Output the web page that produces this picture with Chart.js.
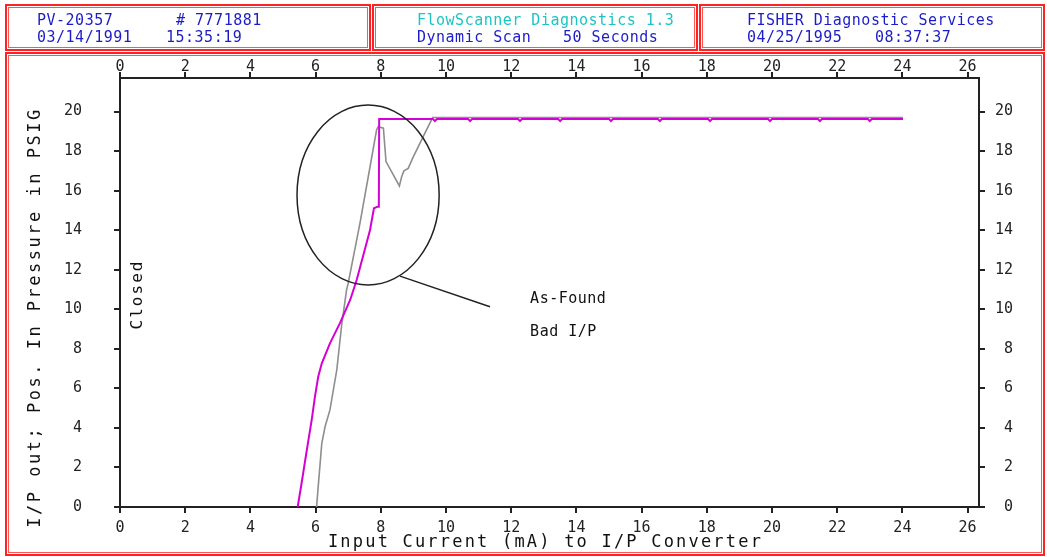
<!DOCTYPE html>
<html>
<head>
<meta charset="utf-8">
<title>FlowScanner Diagnostics - Dynamic Scan</title>
<script src="https://cdn.jsdelivr.net/npm/chart.js@4.4.1/dist/chart.umd.min.js"></script>
<style>
  html, body { margin: 0; padding: 0; background: #fff; }
  body { width: 1047px; height: 557px; position: relative; overflow: hidden; font-family: 'DejaVu Sans Mono', monospace; }
  #chart { position: absolute; left: 0; top: 0; }
  .box { position: absolute; box-sizing: border-box; border: 2px solid #f22; pointer-events: none; }
  .box::after { content: ''; position: absolute; left: 1px; top: 1px; right: 1px; bottom: 1px; border: 1px solid #f55; }
  .txt { position: absolute; font-size: 15px; line-height: 15px; letter-spacing: 0.5px; white-space: pre; color: #1c1cc8; }
  .cyan { color: #1ec4c4; }
</style>
</head>
<body>
<canvas id="chart" width="1047" height="557"></canvas>

<div class="box" style="left:5px; top:4px; width:366px; height:47px;"></div>
<div class="box" style="left:372px; top:4px; width:326px; height:47px;"></div>
<div class="box" style="left:699px; top:4px; width:346px; height:47px;"></div>
<div class="box" style="left:5px; top:52px; width:1040px; height:504px;"></div>

<div class="txt" style="left:37px; top:13px;">PV-20357</div>
<div class="txt" style="left:176px; top:13px;"># 7771881</div>
<div class="txt" style="left:37px; top:30px;">03/14/1991</div>
<div class="txt" style="left:166px; top:30px;">15:35:19</div>
<div class="txt cyan" style="left:417px; top:13px;">FlowScanner Diagnostics 1.3</div>
<div class="txt" style="left:417px; top:30px;">Dynamic Scan</div>
<div class="txt" style="left:563px; top:30px;">50 Seconds</div>
<div class="txt" style="left:747px; top:13px;">FISHER Diagnostic Services</div>
<div class="txt" style="left:747px; top:30px;">04/25/1995</div>
<div class="txt" style="left:875px; top:30px;">08:37:37</div>

<script>
// I/P output pressure (magenta)
const ipOutX = [5.45, 5.57, 5.73, 5.88, 5.98, 6.08, 6.19, 6.44, 6.75, 7.06, 7.26, 7.67, 7.79, 7.90, 7.94, 7.95,
  9.60, 9.66, 9.72, 10.68, 10.74, 10.80, 12.21, 12.27, 12.33, 13.44, 13.50, 13.56, 15.00, 15.06, 15.12,
  16.50, 16.56, 16.62, 18.04, 18.10, 18.16, 19.88, 19.94, 20.00, 21.41, 21.47, 21.53, 22.94, 23.00, 23.06, 24.02];
const ipOutY = [0, 1.2, 2.88, 4.4, 5.58, 6.59, 7.27, 8.28, 9.31, 10.47, 11.48, 14.01, 15.11, 15.19, 15.19, 19.62,
  19.62, 19.52, 19.62, 19.62, 19.52, 19.62, 19.62, 19.52, 19.62, 19.62, 19.52, 19.62, 19.62, 19.52, 19.62,
  19.62, 19.52, 19.62, 19.62, 19.52, 19.62, 19.62, 19.52, 19.62, 19.62, 19.52, 19.62, 19.62, 19.52, 19.62, 19.62];

// valve position (gray)
const positionX = [6.03, 6.08, 6.19, 6.29, 6.44, 6.65, 6.80, 6.95, 7.00, 7.36, 7.67, 7.87, 7.92, 8.08, 8.16,
  8.33, 8.57, 8.64, 8.71, 8.84, 9.00, 9.30, 9.59, 24.02];
const positionY = [0, 1.03, 3.22, 4.06, 4.91, 6.93, 9.21, 10.98, 11.32, 14.35, 17.21, 19.07, 19.24, 19.16, 17.47,
  16.96, 16.24, 16.71, 17.0, 17.13, 17.72, 18.73, 19.7, 19.7];

const xTicks = [0, 2, 4, 6, 8, 10, 12, 14, 16, 18, 20, 22, 24, 26];
const yTicks = [0, 2, 4, 6, 8, 10, 12, 14, 16, 18, 20];

const xTitle = 'Input Current (mA) to I/P Converter';
const yTitle = 'I/P out; Pos. In Pressure in PSIG';
const sideNote = 'Closed';
const noteLines = ['As-Found', 'Bad I/P'];

// annotation geometry in data units
const ringCenter = [7.61, 15.78];
const ringRadius = [2.18, 4.55];
const leaderFrom = [8.59, 11.68];
const leaderTo = [11.35, 10.13];
const noteX = 12.58;
const noteY = [10.52, 8.85];

const toPoints = (xs, ys) => xs.map((v, i) => ({ x: v, y: ys[i] }));

const tickFont = { family: 'DejaVu Sans Mono', size: 15, lineHeight: 1 };
const ink = '#222';

const axisGrid = (len) => ({ drawOnChartArea: false, drawTicks: true, tickLength: len, color: ink, lineWidth: 2 });
const axisBorder = { display: true, color: ink, width: 2 };

const overlay = {
  id: 'overlay',
  afterDatasetsDraw(chart) {
    const { ctx, scales: { x, y } } = chart;
    ctx.save();

    // ellipse around the bad region
    const cx = x.getPixelForValue(ringCenter[0]);
    const cy = y.getPixelForValue(ringCenter[1]);
    const rx = x.getPixelForValue(ringCenter[0] + ringRadius[0]) - cx;
    const ry = cy - y.getPixelForValue(ringCenter[1] + ringRadius[1]);
    ctx.strokeStyle = ink;
    ctx.lineWidth = 1.5;
    ctx.beginPath();
    ctx.ellipse(cx, cy, rx, ry, 0, 0, Math.PI * 2);
    ctx.stroke();

    ctx.beginPath();
    ctx.moveTo(x.getPixelForValue(leaderFrom[0]), y.getPixelForValue(leaderFrom[1]));
    ctx.lineTo(x.getPixelForValue(leaderTo[0]), y.getPixelForValue(leaderTo[1]));
    ctx.stroke();

    ctx.fillStyle = '#111';
    ctx.textBaseline = 'middle';
    ctx.textAlign = 'left';
    ctx.font = '15px "DejaVu Sans Mono"';
    ctx.letterSpacing = '0.5px';
    noteLines.forEach((t, i) => ctx.fillText(t, x.getPixelForValue(noteX), y.getPixelForValue(noteY[i])));
    ctx.restore();
  },
  afterDraw(chart) {
    const { ctx, chartArea } = chart;
    ctx.save();
    ctx.fillStyle = '#111';
    ctx.textBaseline = 'middle';
    ctx.textAlign = 'center';
    ctx.font = '17px "DejaVu Sans Mono"';
    ctx.letterSpacing = '2.2px';
    ctx.fillText(xTitle, (chartArea.left + chartArea.right) / 2 - 4, chartArea.bottom + 36);

    ctx.save();
    ctx.translate(chartArea.left - 84, (chartArea.top + chartArea.bottom) / 2 + 25);
    ctx.rotate(-Math.PI / 2);
    ctx.letterSpacing = '2.5px';
    ctx.fillText(yTitle, 0, 0);
    ctx.restore();

    ctx.save();
    ctx.translate(chartArea.left + 18, (chartArea.top + chartArea.bottom) / 2 + 2);
    ctx.rotate(-Math.PI / 2);
    ctx.font = '16px "DejaVu Sans Mono"';
    ctx.letterSpacing = '2px';
    ctx.fillText(sideNote, 0, 0);
    ctx.restore();

    ctx.restore();
  }
};

new Chart(document.getElementById('chart'), {
  type: 'line',
  data: {
    datasets: [
      {
        label: 'I/P out',
        data: toPoints(ipOutX, ipOutY),
        borderColor: '#d400d4',
        borderWidth: 2,
        pointRadius: 0,
        tension: 0,
      },
      {
        label: 'Position',
        data: toPoints(positionX, positionY),
        borderColor: '#8e8e8e',
        borderWidth: 1.6,
        pointRadius: 0,
        tension: 0,
      },
    ],
  },
  options: {
    responsive: false,
    animation: false,
    devicePixelRatio: 1,
    // right padding lets the right-hand labels end right-aligned at the scale edge
    layout: { padding: { left: 0, top: 0, bottom: 0, right: 34 } },
    plugins: { legend: { display: false }, tooltip: { enabled: false } },
    scales: {
      x: {
        type: 'linear', position: 'bottom', min: 0, max: 26.35,
        afterBuildTicks: (s) => { s.ticks = xTicks.map((v) => ({ value: v })); },
        afterFit: (s) => { s.height = 50; },
        ticks: { font: tickFont, color: ink, padding: 8, maxRotation: 0 },
        grid: axisGrid(6), border: axisBorder,
      },
      x2: {
        type: 'linear', axis: 'x', position: 'top', min: 0, max: 26.35,
        afterBuildTicks: (s) => { s.ticks = xTicks.map((v) => ({ value: v })); },
        afterFit: (s) => { s.height = 78; },
        ticks: { font: tickFont, color: ink, padding: -3, maxRotation: 0 },
        grid: axisGrid(6), border: axisBorder,
      },
      y: {
        type: 'linear', position: 'left', min: 0, max: 21.7,
        afterBuildTicks: (s) => { s.ticks = yTicks.map((v) => ({ value: v })); },
        afterFit: (s) => { s.width = 120; },
        ticks: { font: tickFont, color: ink, padding: 32 },
        grid: axisGrid(6), border: axisBorder,
      },
      y2: {
        type: 'linear', axis: 'y', position: 'right', min: 0, max: 21.7,
        afterBuildTicks: (s) => { s.ticks = yTicks.map((v) => ({ value: v })); },
        afterFit: (s) => { s.width = 34; },
        ticks: { font: tickFont, color: ink, padding: 10, crossAlign: 'far' },
        grid: axisGrid(6), border: axisBorder,
      },
    },
  },
  plugins: [overlay],
});
</script>
</body>
</html>
